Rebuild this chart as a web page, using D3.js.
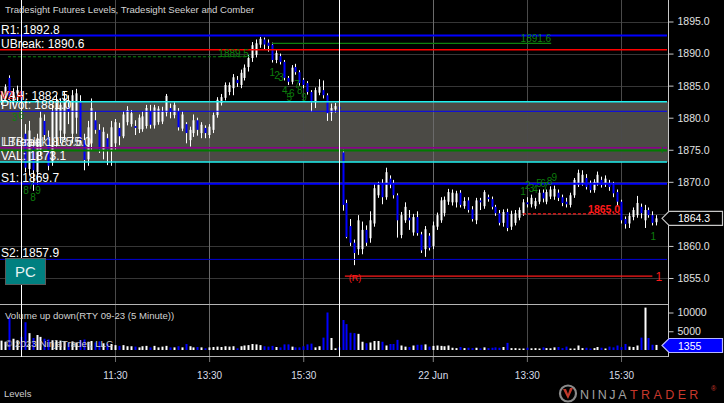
<!DOCTYPE html>
<html><head><meta charset="utf-8">
<script src="https://cdn.jsdelivr.net/npm/d3@7"></script>
<style>
html,body{margin:0;padding:0;background:#000;}
svg{display:block;}
text{font-family:"Liberation Sans",Arial,sans-serif;}
</style></head><body>
<svg id="c" width="724" height="403"></svg>
<script>
// ---------- DATA ----------
const startSlot = -5; // slot index of first bar (5-minute bars, day1 09:35 = slot 1)
const opens = [1882.6,1883.5,1886.2,1882.6,1883.8,1884.2,
1877.5,1872.0,1875.5,1871.5,1875.0,1879.5,1877.0,1873.0,1877.0,1878.0,1877.5,1881.6,1877.5,1880.0,1882.4,1876.5,1873.5,1876.0,1879.6,1878.1,1875.0,1876.8,1874.8,1876.0,
1878.4,1877.1,1879.3,1879.0,1878.7,1878.2,1878.2,1878.7,1881.0,1878.8,1879.3,1879.4,1880.8,1881.5,1880.4,1881.0,1878.3,1879.0,1876.5,1877.6,1879.6,1877.6,1878.4,1877.3,1878.1,1880.4,1882.3,1883.1,1884.0,1884.6,
1885.9,1885.1,1886.2,1887.9,1889.3,1889.8,1891.4,1892.2,1891.7,1891.4,1889.0,1889.6,1888.7,1886.2,1885.6,1887.9,1887.1,1885.9,1885.4,1884.0,1882.4,1883.9,1884.3,1883.5,1880.8,1881.3,1881.7,
1874.6,1866.7,1863.1,1860.5,1859.5,1859.5,1862.5,1861.2,1863.5,1867.9,
1869.8,1867.6,1870.5,1869.8,1867.9,1861.7,1864.0,1864.4,1862.1,1864.5,
1861.8,1859.5,1861.6,1860.0,1863.0,1864.0,1865.1,1866.9,1866.8,1866.8,
1868.3,1866.2,1867.1,1865.7,1864.0,1867.1,1866.2,1867.6,1867.3,1866.1,
1865.1,1863.6,1865.3,1863.0,1863.6,1864.4,1865.1,1866.8,1866.5,1866.2,
1866.9,1868.3,1866.9,1867.7,1867.7,1868.3,1867.6,1866.9,1866.4,1867.9,
1869.5,1869.8,1870.6,1869.8,1868.7,1869.8,1870.3,1869.6,1869.8,1869.6,
1868.4,1866.9,1864.2,1863.5,1864.5,1864.8,1866.1,1864.0,1865.6,1864.8,
1863.7];
const highs = [1884.0,1885.2,1886.6,1884.6,1885.0,1884.6,
1879.0,1879.5,1876.5,1877.5,1881.0,1880.5,1878.0,1882.0,1883.5,1883.0,1884.0,1883.5,1884.3,1884.5,1883.5,1877.5,1879.5,1883.0,1881.0,1879.0,1878.5,1877.5,1879.5,1879.8,
1879.2,1881.0,1881.8,1881.2,1879.6,1880.5,1881.0,1882.0,1882.0,1882.0,1881.8,1881.7,1883.7,1882.2,1882.4,1881.5,1881.0,1879.3,1878.6,1880.5,1880.0,1879.3,1878.8,1879.0,1880.8,1883.2,1883.7,1885.5,1885.5,1886.8,
1886.5,1887.5,1888.3,1889.8,1891.8,1892.2,1892.6,1892.5,1892.2,1891.7,1890.6,1890.0,1889.0,1886.5,1888.2,1888.4,1887.4,1886.2,1885.7,1884.3,1884.7,1886.0,1885.8,1883.8,1882.2,1882.3,1882.0,
1875.0,1867.2,1864.2,1861.0,1864.8,1863.8,1863.2,1865.4,1869.8,1870.0,
1870.4,1872.2,1871.0,1870.3,1868.2,1865.3,1866.8,1865.6,1865.0,1865.4,
1862.2,1863.1,1862.0,1863.8,1865.2,1867.6,1867.7,1868.9,1868.8,1868.6,
1868.7,1867.6,1867.6,1866.2,1867.5,1867.5,1868.7,1868.0,1867.7,1866.4,
1865.6,1865.7,1865.8,1865.5,1865.6,1866.0,1867.3,1867.6,1868.0,1867.5,
1868.8,1868.8,1868.8,1869.3,1869.4,1868.8,1868.0,1867.5,1868.3,1870.6,
1871.9,1871.8,1871.2,1870.2,1870.4,1871.6,1870.8,1871.0,1870.3,1870.0,
1868.8,1867.2,1864.6,1865.2,1866.0,1867.8,1866.6,1866.4,1866.0,1865.4,
1864.8];
const lows = [1882.0,1883.0,1882.8,1882.0,1882.6,1882.0,
1871.5,1871.0,1868.6,1869.5,1874.0,1876.5,1871.8,1872.5,1875.5,1876.0,1876.5,1879.0,1876.0,1877.5,1876.0,1871.8,1872.5,1875.0,1877.5,1874.5,1873.5,1872.6,1872.5,1875.0,
1875.7,1876.8,1878.8,1878.6,1877.3,1877.6,1877.8,1878.3,1878.3,1878.3,1878.9,1879.0,1880.2,1879.9,1879.9,1878.0,1877.9,1876.0,1875.5,1877.0,1877.2,1876.8,1876.8,1876.8,1877.6,1880.0,1881.9,1882.7,1883.5,1883.5,
1884.8,1884.6,1885.8,1887.2,1888.7,1889.4,1890.9,1890.6,1890.3,1888.6,1888.5,1888.3,1885.8,1885.1,1885.2,1886.7,1885.0,1884.6,1883.6,1880.9,1881.5,1883.5,1883.0,1879.5,1879.5,1880.8,1880.9,
1865.5,1861.2,1860.0,1857.0,1858.6,1858.7,1860.0,1860.5,1863.0,1867.5,
1866.5,1867.2,1869.0,1867.4,1861.3,1861.2,1863.6,1862.5,1861.6,1861.6,
1858.9,1858.3,1859.3,1859.5,1862.5,1863.6,1864.6,1866.4,1866.3,1866.0,
1866.0,1865.8,1865.2,1863.8,1863.4,1865.6,1865.8,1866.9,1865.7,1864.7,
1863.2,1863.0,1862.3,1862.5,1863.2,1864.0,1864.7,1866.0,1866.0,1865.8,
1866.5,1866.8,1866.5,1867.3,1867.2,1867.0,1866.2,1866.0,1866.0,1867.5,
1869.2,1869.4,1868.8,1868.3,1868.3,1869.4,1869.1,1869.2,1868.6,1867.6,
1866.2,1863.5,1862.7,1862.8,1864.0,1864.4,1864.3,1862.8,1864.4,1863.2,
1863.2];
const closes = [1883.6,1884.8,1883.2,1884.0,1884.3,1882.6,
1872.2,1878.0,1871.8,1876.8,1880.0,1877.3,1872.5,1881.0,1882.5,1882.0,1883.0,1880.9,1883.5,1883.8,1876.5,1873.4,1878.5,1881.5,1878.1,1875.0,1877.8,1875.0,1878.5,1879.3,
1877.1,1880.5,1881.2,1880.7,1878.4,1880.0,1880.2,1881.5,1878.9,1881.6,1881.4,1881.0,1883.4,1880.9,1882.0,1878.5,1880.5,1877.6,1878.1,1879.6,1878.1,1878.9,1877.6,1878.6,1880.4,1882.8,1883.2,1885.1,1885.1,1886.3,
1885.4,1887.0,1887.8,1889.3,1891.3,1891.6,1892.3,1891.4,1891.2,1889.0,1890.1,1888.7,1886.2,1885.6,1887.8,1887.1,1885.4,1885.1,1884.0,1882.4,1884.3,1884.8,1883.5,1880.7,1881.5,1881.8,1881.3,
1866.4,1861.4,1860.5,1858.9,1864.0,1862.5,1860.5,1864.0,1869.0,1869.5,
1867.6,1871.5,1869.8,1867.9,1864.0,1864.8,1866.1,1864.0,1864.5,1862.0,
1859.3,1862.6,1859.7,1863.2,1864.8,1867.1,1867.2,1868.4,1868.3,1868.2,
1866.4,1867.0,1865.6,1864.2,1867.1,1866.8,1868.4,1867.3,1866.1,1865.1,
1863.6,1865.3,1862.8,1865.0,1865.1,1865.6,1866.8,1866.5,1867.5,1867.0,
1868.3,1867.4,1868.4,1868.8,1868.9,1867.5,1866.7,1866.5,1867.9,1870.3,
1871.4,1871.1,1869.2,1868.7,1870.0,1871.1,1869.5,1870.5,1869.2,1868.2,
1866.9,1864.0,1863.4,1864.7,1865.6,1866.7,1865.1,1865.6,1864.8,1863.6,
1864.3];
const volumes = [2500,2200,8600,3000,2600,3500,
7400,4500,3200,4000,3500,3000,2800,2600,2600,2500,2200,2000,2300,2000,2600,2800,2200,2400,2000,2300,1800,1700,1600,1300,
1100,1300,1000,1000,900,700,1000,1100,700,1100,700,900,1100,700,700,1000,700,1600,1000,700,800,700,450,700,800,900,800,1000,900,1000,
450,1000,1200,1300,1600,1500,1300,1000,900,1100,800,700,1500,1500,900,700,700,1000,1500,1700,700,1000,3300,10000,3200,450,700,
8000,6900,4600,4500,4300,2200,1800,2000,2400,2400,
2200,1200,1600,1600,2700,1200,900,800,1200,1400,
1400,1500,900,1100,1200,1100,1000,1200,600,500,
800,500,600,500,600,450,700,500,600,700,
600,800,1900,500,500,400,400,600,450,500,
400,700,500,450,700,800,500,900,400,400,
1200,500,600,400,500,800,600,400,900,700,
1200,800,1600,900,800,1200,3300,11300,3200,1400,
1355];

const tickSlots = [24,48,72,105,129,153];
const tickLabels = ["11:30","13:30","15:30","22 Jun","13:30","15:30"];
const sessionSlots = [0, 81];
const priceTicks = [1855,1860,1865,1870,1875,1880,1885,1890,1895];
const volumeTicks = [0,5000,10000];

const levelNames = ["R1","UBreak","VAH","Pivot","VAL","S1","S2"];
const levelValues = [1892.8,1890.6,1882.5,1881.0,1873.1,1869.7,1857.9];
const breakLabels = ["LBreak: 1875.6","LTBreak: 1875.0"];
const breakValues = [1875.3,1874.9];

// signal lines: value, start slot, end slot, label
const signalValues = [1889.5,1891.6,1865.0,1855.3];
const signalStart = [-3.3,64,128,82.6];
const signalEnd = [58.4,135.2,152.8,161];
const signalLabels = ["1889.5","1891.6","1865.0","1"];

// seeker/comber counts: text, slot, price
const countText  = ["1","2","3","4","5","6","7","8","9", "3","6", "8","7","9","8", "1","2","3","4","5","6","7","8","9", "1"];
const countSlot  = [64.1,65.3,66.3,67.3,68.4,69.1,70.4,71.1,72.2, -1.6,0.1, 1.3,2.6,4.4,3.1, 128.0,129.2,130.2,131.1,132.1,133.1,133.8,134.8,136.0, 161.2];
const countPrice = [1887.0,1886.6,1886.3,1884.2,1883.2,1883.8,1885.1,1884.2,1883.1, 1880.1,1880.3, 1868.7,1869.5,1868.7,1867.5, 1868.5,1869.5,1869.0,1868.8,1869.8,1869.8,1869.2,1870.0,1870.6, 1861.4];

const lastPrice = 1864.3;
const lastVolume = 1355;

// ---------- DRAW ----------
const svg = d3.select("#c");
const W = 724, H = 403, axisX = 668;
const x = d3.scaleLinear().domain([24,153]).range([115,621]);
const y = d3.scaleLinear().domain([1855,1895]).range([278,21.5]);
const yv = d3.scaleLinear().domain([0,10000]).range([350,312.5]);
const px = v => Math.round(v) + 0.5;

svg.append("rect").attr("width",W).attr("height",H).attr("fill","#000");

// horizontal grid (price)
svg.append("g").selectAll("line").data(priceTicks).join("line")
  .attr("x1",0).attr("x2",axisX).attr("y1",d=>px(y(d))).attr("y2",d=>px(y(d)))
  .attr("stroke","#363636").attr("stroke-width",1);

// value-area fill
svg.append("rect").attr("x",0).attr("width",axisX)
  .attr("y",y(levelValues[2])).attr("height",y(levelValues[4])-y(levelValues[2]))
  .attr("fill","#4b4a45");

// vertical grid
svg.append("g").selectAll("line").data(tickSlots).join("line")
  .attr("x1",d=>px(x(d))).attr("x2",d=>px(x(d))).attr("y1",0).attr("y2",362)
  .attr("stroke",(d,i)=> (i===1||i===3) ? "#6a6a6a" : "#4a4a4a").attr("stroke-width",1);

// panel borders
svg.append("line").attr("x1",0).attr("x2",axisX).attr("y1",304.5).attr("y2",304.5).attr("stroke","#b4b4b4");
svg.append("line").attr("x1",0).attr("x2",axisX).attr("y1",356.5).attr("y2",356.5).attr("stroke","#b4b4b4");

// candles
const bars = opens.map((o,i)=>({g:startSlot+i,o,h:highs[i],l:lows[i],c:closes[i],v:volumes[i]}));
const cg = svg.append("g");
bars.forEach(b=>{
  const cx = Math.round(x(b.g));
  const up = b.c >= b.o;
  cg.append("line").attr("x1",cx+0.5).attr("x2",cx+0.5)
    .attr("y1",y(b.h)).attr("y2",y(b.l)).attr("stroke","#ffffff").attr("stroke-width",1);
  const top = y(Math.max(b.o,b.c)), bot = y(Math.min(b.o,b.c));
  cg.append("rect").attr("x",cx-0.5).attr("width",2)
    .attr("y",top).attr("height",Math.max(1,bot-top))
    .attr("fill", up ? "#ffffff" : "#0000ff");
});

// volume bars
svg.append("g").selectAll("rect").data(bars).join("rect")
  .attr("x",d=>Math.round(x(d.g))-0.5).attr("width",2)
  .attr("y",d=>yv(d.v)).attr("height",d=>yv(0)-yv(d.v))
  .attr("fill",d=> d.c>=d.o ? "#ffffff" : "#0000ff");

// level lines
const levelStyle = {
  "R1":{c:"#0000ff",w:2},"UBreak":{c:"#ff0000",w:1.5},"VAH":{c:"#20f0f0",w:1.5},
  "Pivot":{c:"#0000ff",w:1},"VAL":{c:"#20f0f0",w:1.5},"S1":{c:"#0000ff",w:2},"S2":{c:"#0000d8",w:1}
};
levelNames.forEach((n,i)=>{
  const st = levelStyle[n];
  svg.append("line").attr("x1",0).attr("x2",axisX-1)
    .attr("y1",y(levelValues[i])).attr("y2",y(levelValues[i]))
    .attr("stroke",st.c).attr("stroke-width",st.w);
});
const breakColors = ["#8a008a","#007a00"], breakW=[1.5,2];
breakValues.forEach((v,i)=>{
  svg.append("line").attr("x1",0).attr("x2",axisX-1).attr("y1",y(v)).attr("y2",y(v))
    .attr("stroke",breakColors[i]).attr("stroke-width",breakW[i]);
});
// green + marker at right end
svg.append("text").attr("x",662).attr("y",y(breakValues[1])+4).attr("text-anchor","middle")
  .attr("fill","#0a7a0a").attr("font-size","13px").text("+");

// signal lines
const sigStyle = [
  {c:"#0d800d",dash:"3,2",tc:"#0d800d"},
  {c:"#0d800d",dash:null,tc:"#0d800d"},
  {c:"#ff1a1a",dash:"3,2",tc:"#ff1a1a"},
  {c:"#ff1a1a",dash:null,tc:"#ff1a1a"}
];
signalValues.forEach((v,i)=>{
  const s = sigStyle[i];
  const ln = svg.append("line").attr("x1",x(signalStart[i])).attr("x2",x(signalEnd[i]))
    .attr("y1",y(v)).attr("y2",y(v)).attr("stroke",s.c).attr("stroke-width",1.2);
  if (s.dash) ln.attr("stroke-dasharray",s.dash);
});
svg.append("text").attr("x",x(signalEnd[0])-1).attr("y",y(signalValues[0])).attr("text-anchor","end")
  .attr("fill",sigStyle[0].tc).attr("font-size","10px").text(signalLabels[0]);
svg.append("text").attr("x",x(signalEnd[1])).attr("y",y(signalValues[1])-1).attr("text-anchor","end")
  .attr("fill",sigStyle[1].tc).attr("font-size","10px").text(signalLabels[1]);
svg.append("text").attr("x",x(signalEnd[2])).attr("y",y(signalValues[2])-1).attr("text-anchor","end")
  .attr("fill",sigStyle[2].tc).attr("font-size","10.5px").attr("font-weight","bold").text(signalLabels[2]);
svg.append("text").attr("x",x(signalEnd[3])+3).attr("y",y(signalValues[3])+5)
  .attr("fill",sigStyle[3].tc).attr("font-size","12px").text(signalLabels[3]);
svg.append("text").attr("x",x(signalStart[3])+4).attr("y",y(signalValues[3])+5)
  .attr("fill","#ff1a1a").attr("font-size","9px").text("(R)");

// session lines
svg.append("g").selectAll("line").data(sessionSlots).join("line")
  .attr("x1",d=>px(x(d)+0.6)).attr("x2",d=>px(x(d)+0.6)).attr("y1",0).attr("y2",357)
  .attr("stroke","#ffffff").attr("stroke-width",1);

// counts
svg.append("g").selectAll("text").data(countText).join("text")
  .attr("x",(d,i)=>x(countSlot[i])).attr("y",(d,i)=>y(countPrice[i])+3.5)
  .attr("text-anchor","middle").attr("fill","#0d7d0d").attr("font-size","10px").text(d=>d);

// level labels (left)
const lblG = svg.append("g").attr("font-size","12px").attr("fill","#ffffff");
levelNames.forEach((n,i)=>{
  lblG.append("text").attr("x",1).attr("y",y(levelValues[i])-2)
    .text(n+": "+levelValues[i].toFixed(1));
});
breakLabels.forEach((t,i)=>{
  lblG.append("text").attr("x",1+i*2).attr("y",y(breakValues[0])-1.5).attr("fill-opacity",0.85).text(t);
});
svg.append("text").attr("x",0).attr("y",y(levelValues[2])-3).attr("fill","#ff2020")
  .attr("font-size","11px").attr("fill-opacity",0.9).text("V2.4");

// title texts
svg.append("text").attr("x",5).attr("y",13).attr("fill","#d2d2d2").attr("font-size","9.6px")
  .text("Tradesight Futures Levels, Tradesight Seeker and Comber");
svg.append("text").attr("x",5).attr("y",319).attr("fill","#d2d2d2").attr("font-size","9.6px")
  .text("Volume up down(RTY 09-23 (5 Minute))");
svg.append("text").attr("x",5).attr("y",347).attr("fill","#cfcfcf").attr("font-size","9.8px")
  .text("\u00a9 2023 NinjaTrader, LLC");
svg.append("text").attr("x",4).attr("y",397).attr("fill","#cfcfcf").attr("font-size","9.5px").text("Levels");

// PC button
svg.append("rect").attr("x",5.5).attr("y",258.5).attr("width",40).attr("height",26)
  .attr("fill","#008080").attr("stroke","#5a5a5a");
svg.append("text").attr("x",25.5).attr("y",277).attr("text-anchor","middle")
  .attr("fill","#e8f4f4").attr("font-size","15px").text("PC");

// right price axis
svg.append("line").attr("x1",axisX+0.5).attr("x2",axisX+0.5).attr("y1",0).attr("y2",357).attr("stroke","#c8c8c8");
const ay = svg.append("g").attr("transform",`translate(${axisX+0.5},0)`)
  .call(d3.axisRight(y).tickValues(priceTicks).tickSize(5).tickPadding(4).tickFormat(d3.format(".1f")));
ay.select(".domain").remove();
ay.selectAll("line").attr("stroke","#c8c8c8");
ay.selectAll("text").attr("fill","#e0e0e0").attr("font-size","10.5px").attr("font-family","Liberation Sans, Arial, sans-serif")
  .attr("display",d=> Math.abs(y(d)-y(lastPrice))<9 ? "none" : null); // hidden under last-price marker

const av = svg.append("g").attr("transform",`translate(${axisX+0.5},0)`)
  .call(d3.axisRight(yv).tickValues(volumeTicks).tickSize(5).tickPadding(4).tickFormat(d3.format("d")));
av.select(".domain").remove();
av.selectAll("line").attr("stroke","#c8c8c8");
av.selectAll("text").attr("fill","#e0e0e0").attr("font-size","10.5px").attr("font-family","Liberation Sans, Arial, sans-serif")
  .attr("display",d=> d===0 ? "none" : null); // hidden under last-volume marker

// x axis
const ax = svg.append("g").attr("transform","translate(0,357)")
  .call(d3.axisBottom(x).tickValues(tickSlots).tickSize(5).tickPadding(10).tickFormat((d,i)=>tickLabels[i]));
ax.select(".domain").remove();
ax.selectAll("line").attr("stroke","#6a6a6a");
ax.selectAll("text").attr("fill","#d8dde8").attr("font-size","10px").attr("font-family","Liberation Sans, Arial, sans-serif");

// last price / volume markers
function marker(yy, fill, stroke, txt, tcol){
  const g = svg.append("g");
  g.append("path").attr("d",`M662,${yy} L669,${yy-7} L722.5,${yy-7} L722.5,${yy+7} L669,${yy+7} Z`)
    .attr("fill",fill).attr("stroke",stroke).attr("stroke-width",1.2);
  g.append("text").attr("x",678).attr("y",yy+4).attr("fill",tcol).attr("font-size","10.5px").text(txt);
}
marker(y(lastPrice), "#000000", "#c8c8c8", lastPrice.toFixed(1), "#ffffff");
marker(yv(0)-4.5, "#0000ff", "#b8b8ff", String(lastVolume), "#ffffff");

// NinjaTrader logo
const lg = svg.append("g");
lg.append("circle").attr("cx",568).attr("cy",393.5).attr("r",8).attr("fill","none").attr("stroke","#8a8a8a").attr("stroke-width",2.2);
lg.append("path").attr("d","M563,389 L568,399 L573,388 L570,388 L568,394 L566,389 Z").attr("fill","#c0392b");
lg.append("text").attr("x",580).attr("y",398.5).attr("fill","#a0a0a0").attr("font-size","12.5px").attr("letter-spacing","2.6px").text("NINJA");
lg.append("text").attr("x",630).attr("y",398.5).attr("fill","#c8382c").attr("font-size","12.5px").attr("letter-spacing","3.4px").text("TRADER");
lg.append("text").attr("x",711).attr("y",391).attr("fill","#c8382c").attr("font-size","7px").text("\u00ae");
</script>
</body></html>
